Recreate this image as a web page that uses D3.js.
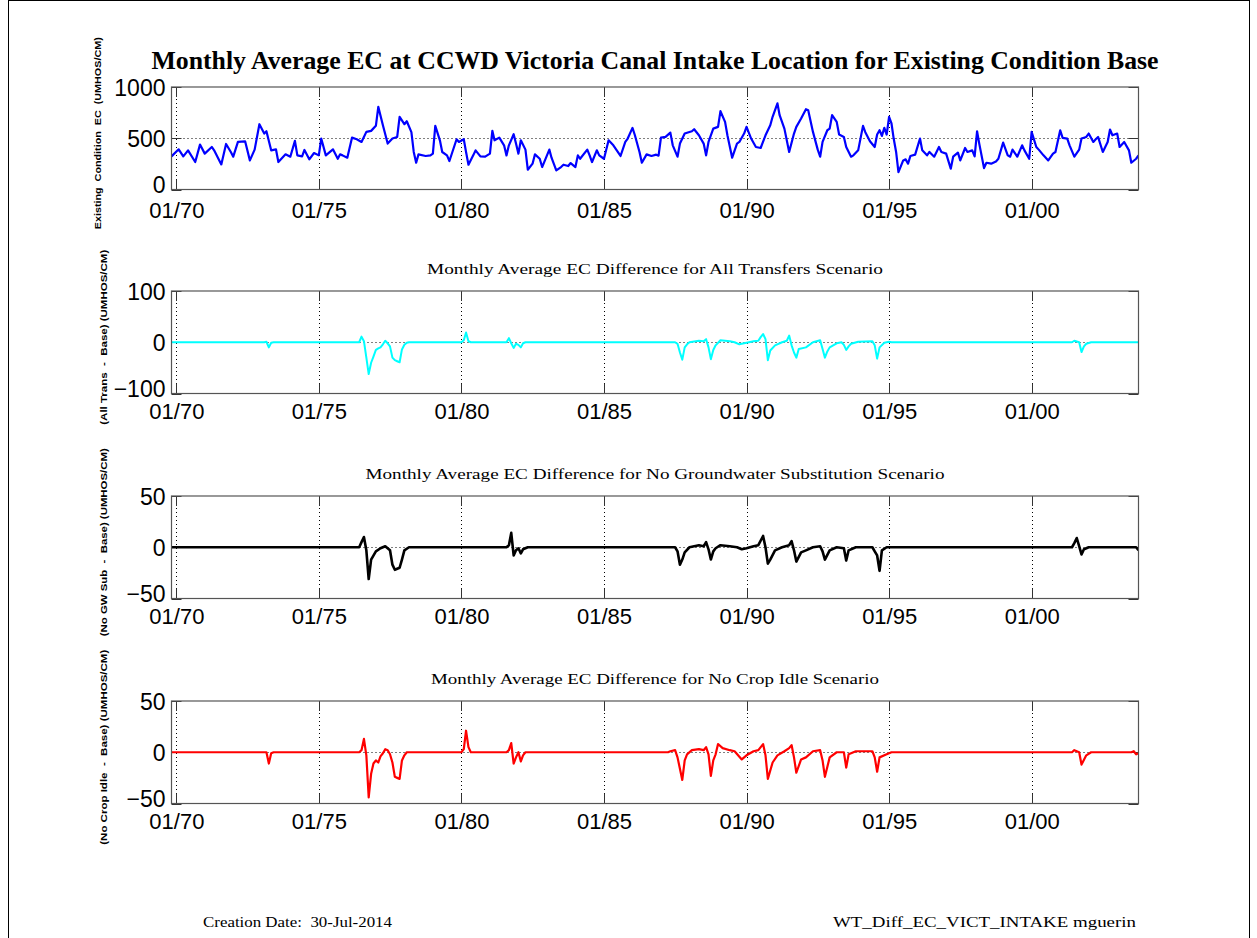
<!DOCTYPE html>
<html><head><meta charset="utf-8">
<script src="https://cdn.jsdelivr.net/npm/d3@7"></script>
<style>body{margin:0;background:#fff}</style>
</head><body>
<svg id="c" width="1257" height="938" xmlns="http://www.w3.org/2000/svg"></svg>
<script>
// ---- DATA (month index 0 = Oct 1969, month-end stamps; last = Sep 2003) ----
const chartTitle = "Monthly Average EC at CCWD Victoria Canal Intake Location for Existing Condition Base";
const panelSubtitles = ["", "Monthly Average EC Difference for All Transfers Scenario",
  "Monthly Average EC Difference for No Groundwater Substitution Scenario",
  "Monthly Average EC Difference for No Crop Idle Scenario"];
const yAxisTitles = ["Existing  Condition  EC  (UMHOS/CM)", "(All Trans  -  Base) (UMHOS/CM)",
  "(No GW Sub  -  Base) (UMHOS/CM)", "(No Crop Idle  -  Base) (UMHOS/CM)"];
const xTickYears = [1970, 1975, 1980, 1985, 1990, 1995, 2000];
const xTickLabels = ["01/70", "01/75", "01/80", "01/85", "01/90", "01/95", "01/00"];
const yTicks1 = [0, 500, 1000];
const yTicks2 = [-100, 0, 100];
const yTicks3 = [-50, 0, 50];
const yTicks4 = [-50, 0, 50];
const footerLeft = "Creation Date:  30-Jul-2014";
const footerRight = "WT_Diff_EC_VICT_INTAKE mguerin";

const baseMonth = [0,3,5,7,10,12,14,17,18,21,23,25,26,28,31,33,35,37,39,40,42,44,45,48,50,52,53,55,56,58,60,62,63,65,68,70,71,72,74,76,78,80,82,84,86,87,89,91,93,95,96,98,99,101,102,103,104,107,109,110,111,113,114,116,117,120,121,123,124,125,127,128,130,132,134,135,136,138,140,141,142,144,145,146,147,149,150,152,153,155,156,159,160,162,164,165,167,168,170,171,172,175,176,177,179,180,182,184,186,189,191,192,194,195,197,198,200,202,204,205,206,208,210,211,213,214,216,219,220,222,224,225,226,228,230,231,233,234,236,238,239,241,242,244,246,248,250,252,253,255,256,258,260,262,263,265,267,268,270,272,273,274,276,277,278,280,281,283,284,286,287,289,291,292,294,296,297,298,299,300,301,302,303,304,305,306,308,309,310,311,313,315,316,318,319,321,323,324,326,328,329,331,332,334,335,337,338,339,340,342,343,345,347,348,350,352,353,354,356,358,359,361,362,364,365,367,369,371,372,374,375,377,378,380,382,383,385,386,388,389,390,392,394,395,396,398,399,401,403,404,406,407];
const baseEC = [323,392,323,382,268,438,350,415,382,245,444,366,320,464,470,284,389,637,546,568,382,392,268,343,320,474,333,323,386,294,356,333,497,333,392,300,343,333,310,506,490,464,562,572,621,807,627,448,497,513,709,637,666,560,366,261,343,327,333,350,621,480,366,333,278,490,464,490,366,242,333,382,323,320,350,572,480,506,431,333,431,539,448,350,480,389,193,252,343,300,219,389,310,186,219,242,229,258,219,333,300,389,333,268,382,333,300,480,431,327,464,497,601,529,366,261,343,327,340,330,506,513,555,431,320,448,546,568,588,529,448,333,464,594,611,764,660,529,310,448,464,546,611,497,415,405,529,627,709,840,725,594,366,546,611,692,784,774,562,389,320,464,578,594,725,660,536,513,415,320,333,382,621,562,470,415,536,578,523,601,536,709,644,497,366,170,284,294,252,327,340,497,382,333,366,320,415,366,350,203,320,360,284,405,366,382,323,568,448,209,261,252,274,300,457,333,320,389,320,431,382,300,562,415,389,333,284,350,366,578,503,497,431,320,389,497,513,546,464,490,513,366,464,585,529,546,415,464,382,261,300,333];

const allTransMonth = [0,39,40,41,42,43,79,80,81,82,83,84,85,86,87,88,89,90,91,92,93,94,95,96,97,98,99,100,122,123,124,125,126,141,142,143,144,145,146,147,148,149,212,213,214,215,216,217,218,222,224,225,226,227,228,229,231,233,235,237,239,241,243,245,247,248,249,250,251,252,254,257,259,260,261,262,263,264,267,270,273,274,275,276,277,280,282,283,284,285,286,289,295,296,297,298,300,302,303,379,380,382,383,384,385,387,407];
const allTransDiff = [0,0,1,-10,-1,0,0,11,2,-30,-62,-40,-28,-15,-12,-10,-4,3,-2,-8,-30,-35,-37,-39,-14,-5,-1,0,0,4,19,2,0,0,8,-2,-11,-3,-5,-10,-2,0,0,-3,-20,-34,-10,-4,0,3,2,6,-10,-33,-15,-6,4,3,2,0,-4,-2,0,2,3,10,16,6,-35,-16,-6,0,3,13,-6,-20,-30,-13,-10,0,4,-13,-30,-18,-10,-2,0,-5,-15,-8,-3,1,2,-6,-32,-10,-1,1,0,0,3,0,-19,-8,-3,0,0];

const noGWMonth = [0,79,80,81,82,83,84,86,88,90,92,93,94,95,96,97,98,100,141,142,143,144,145,146,147,148,150,212,213,214,215,216,218,222,224,225,226,227,228,229,231,235,238,240,242,245,247,249,250,251,252,254,257,260,261,262,263,265,267,270,273,274,275,277,280,283,284,285,288,295,296,297,298,299,301,379,380,381,382,383,384,386,406,407];
const noGWDiff = [0,0,5,10,-3,-31,-12,-4,-1,1,-3,-17,-22,-21,-20,-12,-3,0,0,2,14,-8,-3,-1,-6,-2,0,0,-4,-17,-12,-5,0,2,1,5,-2,-12,-4,-1,2,1,0,-2,-1,1,2,11,0,-16,-12,-3,0,2,6,-3,-14,-5,-3,0,1,-4,-12,-3,0,-1,-13,-3,0,0,-4,-8,-23,-3,0,0,4,9,1,-7,-2,0,0,-3];

const noCropMonth = [0,40,41,42,43,79,80,81,82,83,84,85,86,87,88,89,90,91,92,93,94,95,96,97,98,99,122,123,124,125,126,141,142,143,144,145,146,147,148,149,209,210,212,213,215,216,217,219,222,224,225,226,227,228,229,230,232,235,237,240,242,245,247,249,250,251,253,255,258,260,261,262,263,265,267,270,273,274,275,277,280,283,284,285,288,295,296,297,298,301,303,379,380,382,383,385,387,404,405,406,407];
const noCropDiff = [0,0,-11,-1,0,0,2,13,-3,-44,-21,-11,-8,-10,-4,-1,3,2,-2,-10,-24,-25,-26,-8,-3,0,0,3,21,5,0,0,2,9,-11,-5,0,-9,-3,0,0,1,2,-5,-27,-8,-2,2,3,2,5,-2,-23,-8,-2,8,4,2,1,-7,-3,1,2,8,-3,-26,-10,-3,1,4,7,-5,-20,-7,-5,1,2,-8,-24,-5,0,0,-15,-2,1,1,-5,-19,-5,-2,0,0,2,0,-12,-3,0,0,1,-2,-1];

// ---- RENDER ----
const svg = d3.select("#c");
const monthDate = i => new Date(1969, 10 + i, 0);
const L = 171.5, R = 1138.5, H = 102.5;
const tops = [87, 291, 496, 701];
const xLabelY = [28, 25, 25, 25];

const x = d3.scaleTime().domain([monthDate(0), monthDate(407)]).range([L, R]);

svg.append("rect").attr("x", 8.5).attr("y", 0.5).attr("width", 1241).attr("height", 960)
  .attr("fill", "none").attr("stroke", "#000").attr("stroke-width", 1);

svg.append("text").attr("x", (L + R) / 2).attr("y", 69).attr("text-anchor", "middle")
  .attr("font-family", "Liberation Serif, Times New Roman, serif").attr("font-weight", "bold")
  .attr("font-size", 25).attr("textLength", 1007).attr("lengthAdjust", "spacingAndGlyphs")
  .text(chartTitle);

const panels = [
  {m: baseMonth, v: baseEC, ticks: yTicks1, color: "#0000ff", w: 2.2},
  {m: allTransMonth, v: allTransDiff, ticks: yTicks2, color: "#00ffff", w: 2},
  {m: noGWMonth, v: noGWDiff, ticks: yTicks3, color: "#000000", w: 2.6},
  {m: noCropMonth, v: noCropDiff, ticks: yTicks4, color: "#ff0000", w: 2.2}
];
const subLen = [0, 456, 579, 448];
const yTitleLen = [192, 175, 188, 195];
const yTitleX = [101, 107, 107, 107];

const tickDates = xTickYears.map(y => new Date(y, 0, 1));

panels.forEach((p, k) => {
  const top = tops[k], bot = top + H;
  const y = d3.scaleLinear().domain([p.ticks[0], p.ticks[2]]).range([bot, top]);
  const g = svg.append("g");

  const cid = "clip" + k;
  svg.append("clipPath").attr("id", cid).append("rect")
    .attr("x", L).attr("y", top).attr("width", R - L).attr("height", H);

  tickDates.forEach(d => {
    const xx = Math.round(x(d)) + 0.5;
    g.append("line").attr("x1", xx).attr("x2", xx).attr("y1", top).attr("y2", bot)
      .attr("stroke", "#000").attr("stroke-width", 1).attr("stroke-dasharray", "1,3");
    g.append("line").attr("x1", xx).attr("x2", xx).attr("y1", top).attr("y2", top + 10)
      .attr("stroke", "#333").attr("stroke-width", 1);
    g.append("line").attr("x1", xx).attr("x2", xx).attr("y1", bot - 10).attr("y2", bot)
      .attr("stroke", "#333").attr("stroke-width", 1);
  });
  p.ticks.forEach((t, i) => {
    const yy = Math.round(y(t)) + 0.5;
    if (i === 1) {
      g.append("line").attr("x1", L).attr("x2", R).attr("y1", yy).attr("y2", yy)
        .attr("stroke", "#000").attr("stroke-width", 1).attr("stroke-dasharray", "1,3");
    }
    g.append("line").attr("x1", L).attr("x2", L + 10).attr("y1", yy).attr("y2", yy).attr("stroke", "#333");
    g.append("line").attr("x1", R - 10).attr("x2", R).attr("y1", yy).attr("y2", yy).attr("stroke", "#333");
  });

  const pts = p.m.map((m, i) => [monthDate(m), p.v[i]]);
  svg.append("path").datum(pts).attr("clip-path", `url(#${cid})`)
    .attr("fill", "none").attr("stroke", p.color).attr("stroke-width", p.w)
    .attr("stroke-linejoin", "round")
    .attr("d", d3.line().x(d => x(d[0])).y(d => y(d[1])));

  svg.append("rect").attr("x", L).attr("y", top).attr("width", R - L).attr("height", H)
    .attr("fill", "none").attr("stroke", "#555").attr("stroke-width", 1.2);

  const ya = svg.append("g").attr("transform", `translate(${L},0)`)
    .call(d3.axisLeft(y).tickValues(p.ticks).tickSize(0).tickPadding(6).tickFormat(d3.format("d")));
  ya.select(".domain").remove();
  ya.selectAll("text").attr("font-family", "Liberation Sans, Arial, sans-serif").attr("font-size", 23)
    .attr("fill", "#000").attr("dy", (d, i) => i === 0 ? "0.12em" : "0.36em");

  const xa = svg.append("g").attr("transform", `translate(0,${bot})`)
    .call(d3.axisBottom(x).tickValues(tickDates).tickSize(0).tickPadding(0)
      .tickFormat((d, i) => xTickLabels[i]));
  xa.select(".domain").remove();
  xa.selectAll("text").attr("font-family", "Liberation Sans, Arial, sans-serif").attr("font-size", 22)
    .attr("fill", "#000").attr("dy", null).attr("y", xLabelY[k]);

  if (k > 0) {
    svg.append("text").attr("x", (L + R) / 2).attr("y", top - 17).attr("text-anchor", "middle")
      .attr("font-family", "Liberation Serif, Times New Roman, serif").attr("font-size", 15)
      .attr("textLength", subLen[k]).attr("lengthAdjust", "spacingAndGlyphs")
      .text(panelSubtitles[k]);
  }
  svg.append("text").attr("transform", `translate(${yTitleX[k]},${top + H / 2 - 5}) rotate(-90)`)
    .attr("text-anchor", "middle").attr("font-family", "Liberation Sans, Arial, sans-serif")
    .attr("font-weight", "bold").attr("font-size", 9)
    .attr("textLength", yTitleLen[k]).attr("lengthAdjust", "spacingAndGlyphs")
    .style("white-space", "pre")
    .text(yAxisTitles[k]);
});

svg.append("text").attr("x", 203).attr("y", 927)
  .attr("font-family", "Liberation Serif, Times New Roman, serif").attr("font-size", 14)
  .attr("textLength", 189).attr("lengthAdjust", "spacingAndGlyphs").style("white-space", "pre")
  .text(footerLeft);
svg.append("text").attr("x", 833).attr("y", 927)
  .attr("font-family", "Liberation Serif, Times New Roman, serif").attr("font-size", 14)
  .attr("textLength", 303).attr("lengthAdjust", "spacingAndGlyphs")
  .text(footerRight);
</script>
</body></html>
